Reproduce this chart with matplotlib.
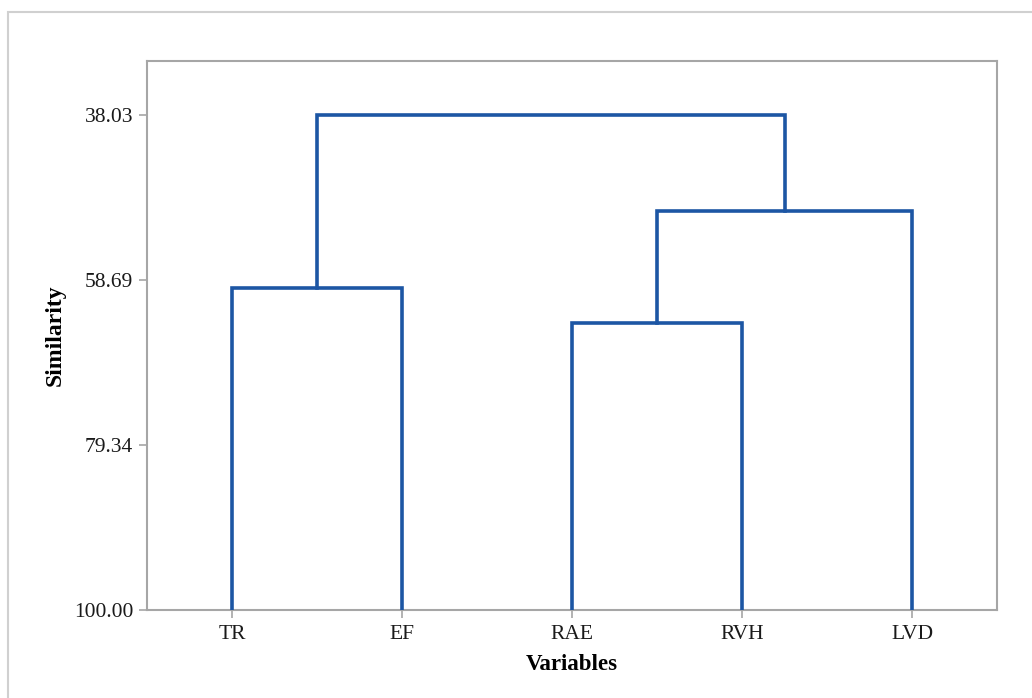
import matplotlib
matplotlib.use("Agg")
import matplotlib.pyplot as plt
from matplotlib.patches import Rectangle

# leaves and merges (left node, right node, similarity level)
leaves = ["TR", "EF", "RAE", "RVH", "LVD"]
merges = [
    (0, 1, 59.69),   # TR + EF
    (2, 3, 64.03),   # RAE + RVH
    (6, 4, 50.01),   # (RAE,RVH) + LVD
    (5, 7, 38.03),   # all
]
yticks = [38.03, 58.69, 79.34, 100.00]

line_col = "#1c56a4"
grey = "#a6a6a6"

plt.rcParams['font.family'] = ['Liberation Serif', 'DejaVu Serif']

fig = plt.figure(figsize=(10.32, 6.98), dpi=100)
fig.patches.append(Rectangle((8 / 1032, -0.5), 2, 1.5 - 12 / 698, transform=fig.transFigure,
                             fill=False, edgecolor="#d0d0d0", linewidth=1.5))
ax = fig.add_axes([147 / 1032, 1 - 610 / 698, 850 / 1032, 549 / 698])

# node positions: leaves at 1..n, clusters at the middle of children
xs = [i + 1 for i in range(len(leaves))]
hs = [100.0] * len(leaves)
for a, b, h in merges:
    ax.plot([xs[a], xs[a], xs[b], xs[b]], [hs[a], h, h, hs[b]],
            color=line_col, linewidth=2.6, solid_joinstyle="miter", zorder=3)
    xs.append((xs[a] + xs[b]) / 2)
    hs.append(h)

ax.set_xlim(0.5, 5.5)
ax.set_ylim(100, 31.27)
ax.set_xticks(range(1, len(leaves) + 1))
ax.set_xticklabels(leaves)
ax.set_yticks(yticks)
ax.set_yticklabels(["%.2f" % v for v in yticks])

for s in ax.spines.values():
    s.set_color(grey)
    s.set_linewidth(1.5)
ax.tick_params(colors=grey, labelcolor="#1a1a1a", labelsize=15.5, length=6, width=1.2)
ax.tick_params(axis="x", pad=5)
ax.tick_params(axis="y", pad=4)

ax.set_xlabel("Variables", fontsize=16.5, fontweight="bold", labelpad=7)
ax.set_ylabel("Similarity", fontsize=17, fontweight="bold", labelpad=6)

fig.savefig("out.png", dpi=100)
